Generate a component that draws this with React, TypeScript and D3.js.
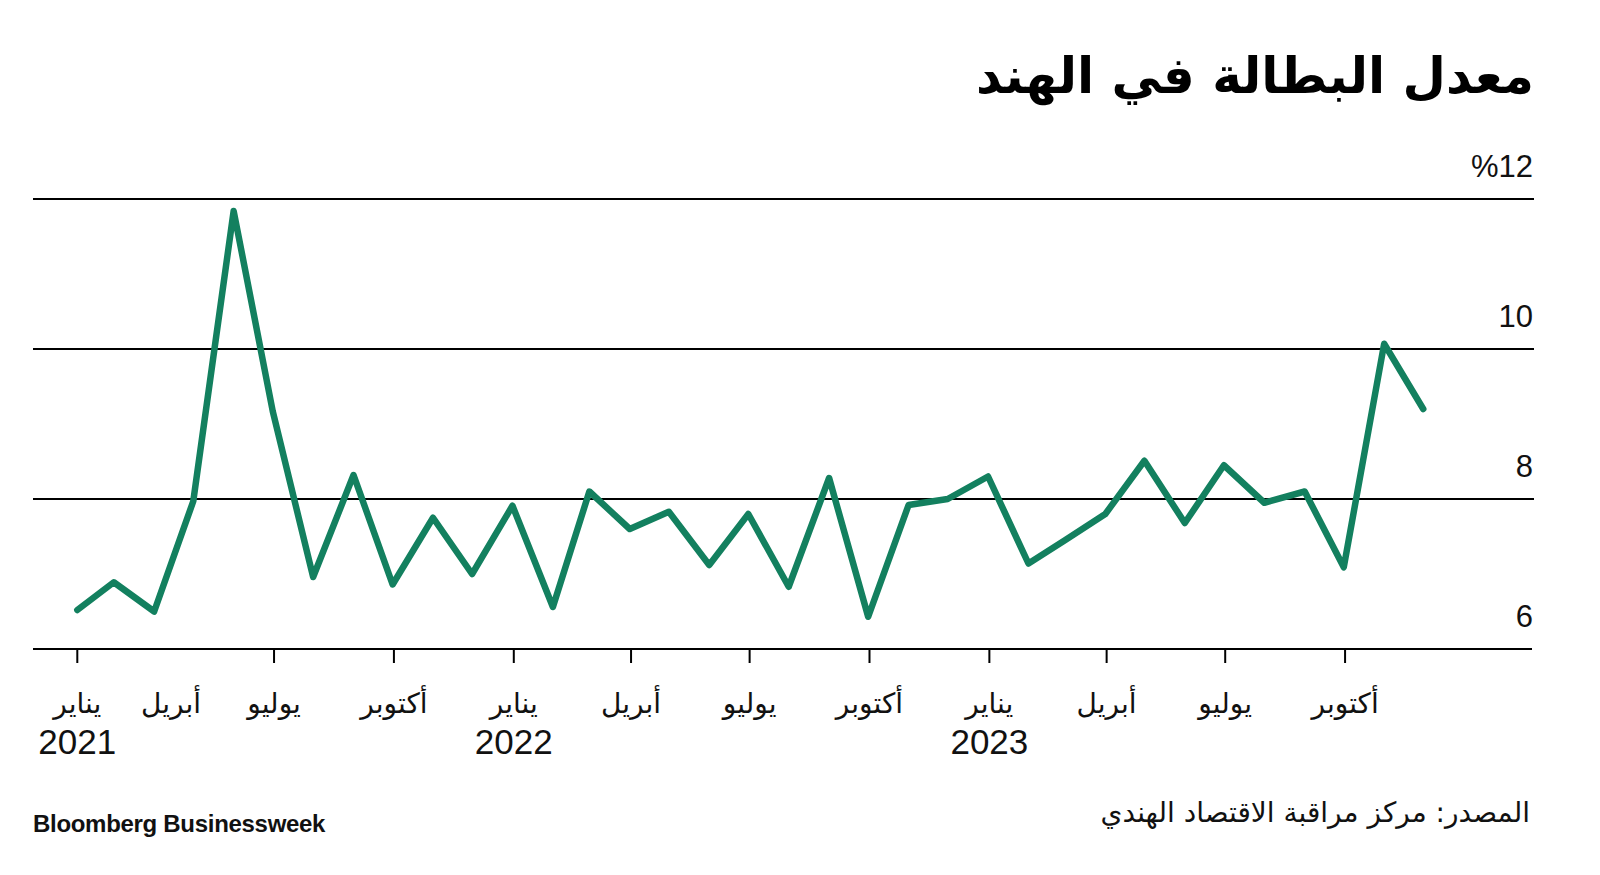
import * as d3 from "d3";

// CMIE monthly unemployment rate, Jan 2021 – Nov 2023
const months = [
  "2021-01", "2021-02", "2021-03", "2021-04", "2021-05", "2021-06",
  "2021-07", "2021-08", "2021-09", "2021-10", "2021-11", "2021-12",
  "2022-01", "2022-02", "2022-03", "2022-04", "2022-05", "2022-06",
  "2022-07", "2022-08", "2022-09", "2022-10", "2022-11", "2022-12",
  "2023-01", "2023-02", "2023-03", "2023-04", "2023-05", "2023-06",
  "2023-07", "2023-08", "2023-09", "2023-10", "2023-11",
];
const rates = [
  6.52, 6.89, 6.5, 7.97, 11.84, 9.17, 6.96, 8.32, 6.86, 7.75, 7.0, 7.91,
  6.56, 8.1, 7.6, 7.83, 7.12, 7.8, 6.83, 8.28, 6.43, 7.92, 8.0, 8.3,
  7.14, 7.45, 7.8, 8.51, 7.68, 8.45, 7.95, 8.1, 7.09, 10.07, 9.2,
];

const yTicks = [6, 8, 10, 12];

// x-axis labels; the first two were nudged by hand in the original
const tickDates = [
  "2021-01-31", "2021-04-13", "2021-07-01", "2021-10-01",
  "2022-01-01", "2022-04-01", "2022-07-01", "2022-10-01",
  "2023-01-01", "2023-04-01", "2023-07-01", "2023-10-01",
];
const tickMonths = [
  "يناير", "أبريل", "يوليو", "أكتوبر",
  "يناير", "أبريل", "يوليو", "أكتوبر",
  "يناير", "أبريل", "يوليو", "أكتوبر",
];
const tickYears = ["2021", "", "", "", "2022", "", "", "", "2023", "", "", ""];
const tickMarks = [true, false, true, true, true, true, true, true, true, true, true, true];

const TITLE = "معدل البطالة في الهند";
const SOURCE = "المصدر: مركز مراقبة الاقتصاد الهندي";

const W = 1600;
const H = 875;
const LEFT = 33;
const RIGHT = 1534;
const GREEN = "#13805f";
const AR_FONT = "'DejaVu Sans', sans-serif";
const NUM_FONT = "'Liberation Sans', Arial, sans-serif";

const parse = d3.timeParse("%Y-%m-%d");
const parseMonth = d3.timeParse("%Y-%m");

// monthly points sit at month end
const points = months.map((m, i) => {
  const start = parseMonth(m)!;
  return { date: d3.timeDay.offset(d3.timeMonth.offset(start, 1), -1), value: rates[i] };
});

export default function App() {
  const x = d3
    .scaleTime()
    .domain([parse("2020-12-28")!, parse("2024-02-23")!])
    .range([LEFT, RIGHT]);
  const y = d3.scaleLinear().domain([6, 12]).range([649, 199]);

  const line = d3
    .line<{ date: Date; value: number }>()
    .x((d) => x(d.date))
    .y((d) => y(d.value));

  return (
    <div style={{ position: "absolute", left: 0, top: 0 }}>
      <svg width={W} height={H} style={{ display: "block", background: "#fff" }}>
        {/* rtl: "start" is the right edge */}
        <text
          x={RIGHT}
          y={93}
          textAnchor="start"
          direction="rtl"
          fontFamily={AR_FONT}
          fontWeight={700}
          fontSize={50}
          fill="#000"
        >
          {TITLE}
        </text>

        {/* gridlines + y labels */}
        {yTicks.map((t) => (
          <g key={t}>
            {t > 6 && (
              <line x1={LEFT} x2={RIGHT} y1={y(t)} y2={y(t)} stroke="#000" strokeWidth={2} />
            )}
            <text
              x={RIGHT - 1}
              y={y(t) - 22}
              textAnchor="end"
              fontFamily={NUM_FONT}
              fontSize={31}
              fill="#111"
            >
              {t === 12 ? "%12" : String(t)}
            </text>
          </g>
        ))}

        {/* x axis */}
        <line x1={LEFT} x2={RIGHT - 2} y1={y(6)} y2={y(6)} stroke="#000" strokeWidth={2} />
        {tickDates.map((d, i) => {
          const px = x(parse(d)!);
          return (
            <g key={d}>
              {tickMarks[i] && (
                <line x1={px} x2={px} y1={y(6)} y2={y(6) + 14} stroke="#000" strokeWidth={2} />
              )}
              <text
                x={px}
                y={713}
                textAnchor="middle"
                direction="rtl"
                fontFamily={AR_FONT}
                fontSize={28}
                fill="#111"
              >
                {tickMonths[i]}
              </text>
              {tickYears[i] && (
                <text
                  x={px}
                  y={754}
                  textAnchor="middle"
                  fontFamily={NUM_FONT}
                  fontSize={35}
                  fill="#111"
                >
                  {tickYears[i]}
                </text>
              )}
            </g>
          );
        })}

        <path
          d={line(points) ?? ""}
          fill="none"
          stroke={GREEN}
          strokeWidth={6.5}
          strokeLinejoin="round"
          strokeLinecap="round"
        />

        {/* footer */}
        <text
          x={LEFT}
          y={832}
          fontFamily={NUM_FONT}
          fontWeight={700}
          fontSize={24}
          fill="#111"
          letterSpacing={-0.3}
        >
          Bloomberg Businessweek
        </text>
        <text
          x={1530}
          y={822}
          textAnchor="start"
          direction="rtl"
          fontFamily={AR_FONT}
          fontSize={28}
          fill="#111"
        >
          {SOURCE}
        </text>
      </svg>
    </div>
  );
}
